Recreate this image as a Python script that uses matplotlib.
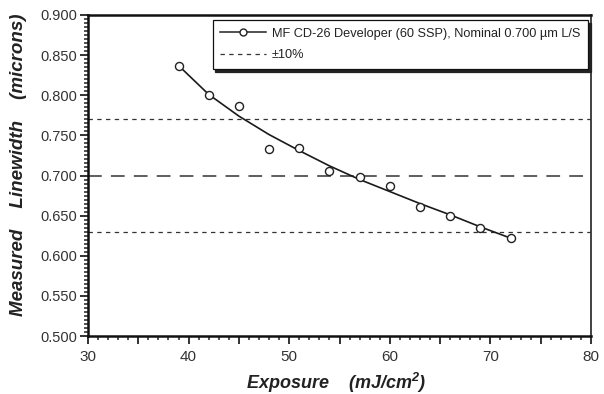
import matplotlib
matplotlib.use("Agg")
import matplotlib.pyplot as plt
from matplotlib.ticker import MultipleLocator, FuncFormatter
from matplotlib.lines import Line2D

# Data
exposure = [39, 42, 45, 48, 51, 54, 57, 60, 63, 66, 69, 72]
linewidth = [0.837, 0.800, 0.786, 0.733, 0.734, 0.706, 0.698, 0.687, 0.661, 0.650, 0.634, 0.622]
fit_x = [39, 42, 45, 48, 51, 54, 57, 60, 63, 66, 69, 72]
fit_y = [0.837, 0.801, 0.774, 0.751, 0.731, 0.712, 0.695, 0.680, 0.665, 0.651, 0.636, 0.622]
nominal = 0.700
upper_limit = 0.770
lower_limit = 0.630
series_label = "MF CD-26 Developer (60 SSP), Nominal 0.700 \u00b5m L/S"
limit_label = "\u00b110%"

plt.rcParams['font.family'] = ['Liberation Sans', 'DejaVu Sans']

fig = plt.figure(figsize=(6.04, 3.94), dpi=100)
ax = fig.add_axes([88/604, 1 - 336/394, (591-88)/604, (336-15)/394])

ax.plot(fit_x, fit_y, color='#1a1a1a', lw=1.2, zorder=3)
ax.plot(exposure, linewidth, 'o', mfc='white', mec='#222222', ms=5.8, mew=1.0, zorder=4)

ax.axhline(upper_limit, color='#333333', lw=0.9, ls=(0, (3.5, 3.5)), zorder=2)
ax.axhline(lower_limit, color='#333333', lw=0.9, ls=(0, (3.5, 3.5)), zorder=2)
ax.axhline(nominal, color='#333333', lw=1.1, ls=(0, (9, 6)), zorder=2)

ax.set_xlim(30, 80)
ax.set_ylim(0.5, 0.9)

ax.xaxis.set_major_locator(MultipleLocator(5))
ax.xaxis.set_minor_locator(MultipleLocator(1))
ax.xaxis.set_major_formatter(FuncFormatter(lambda v, p: f"{int(round(v))}" if round(v) % 10 == 0 else ""))
ax.yaxis.set_major_locator(MultipleLocator(0.05))
ax.yaxis.set_minor_locator(MultipleLocator(0.005))
ax.yaxis.set_major_formatter(FuncFormatter(lambda v, p: f"{v:.3f}"))

ax.tick_params(axis='both', which='major', direction='out', length=6, width=1.3,
               colors='#222222', labelcolor='#333333')
ax.tick_params(axis='both', which='minor', direction='out', length=3, width=1.1, colors='#222222')
ax.tick_params(axis='x', which='major', labelsize=11, pad=4)
ax.tick_params(axis='y', which='major', labelsize=10.5, pad=2)

for s in ['left', 'bottom', 'top']:
    ax.spines[s].set_linewidth(1.8)
    ax.spines[s].set_color('#111111')
ax.spines['right'].set_linewidth(1.3)
ax.spines['right'].set_color('#333333')

ax.set_xlabel("Exposure    (mJ/cm$^\\mathregular{2}$)", fontsize=13, fontweight='bold',
              fontstyle='italic', color='#222222')
ax.xaxis.set_label_coords(0.493, -0.108)
ax.xaxis.label.set_va('top')
ax.set_ylabel("Measured    Linewidth    (microns)", fontsize=13.5, fontweight='bold',
              fontstyle='italic', color='#222222')
ax.yaxis.set_label_coords(-0.122, 0.533)

handles = [
    Line2D([], [], color='#222222', lw=1.1, marker='o', mfc='white', mec='#222222', ms=5, mew=1.0),
    Line2D([], [], color='#333333', lw=0.9, ls=(0, (3.5, 3.5))),
]
leg = ax.legend(handles, [series_label, limit_label], loc='upper right',
                bbox_to_anchor=(0.994, 0.984), fontsize=9.2, frameon=True, fancybox=False,
                edgecolor='#111111', borderpad=0.6, handlelength=3.6, handletextpad=0.45,
                labelspacing=0.75, borderaxespad=0.0,
                shadow={'color': '#222222', 'alpha': 1.0})
leg.get_frame().set_linewidth(0.9)
leg.get_frame().set_facecolor('white')
for t in leg.get_texts():
    t.set_color('#222222')

fig.savefig("out.png", dpi=100, facecolor='white')
